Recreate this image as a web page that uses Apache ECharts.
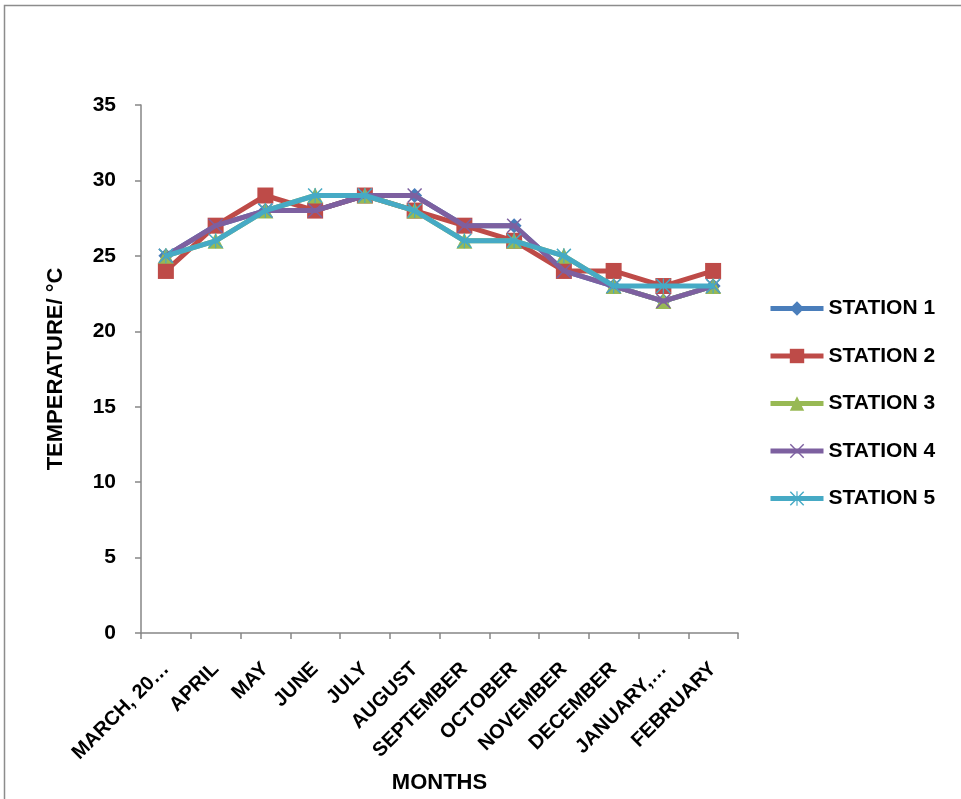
<!DOCTYPE html>
<html><head><meta charset="utf-8">
<script src="https://cdn.jsdelivr.net/npm/echarts@6/dist/echarts.min.js"></script>
<style>html,body{margin:0;padding:0;background:#fff}#c{width:961px;height:799px}</style>
</head><body><div id="c"></div>
<script>
var categories = ["MARCH, 20…","APRIL","MAY","JUNE","JULY","AUGUST","SEPTEMBER","OCTOBER","NOVEMBER","DECEMBER","JANUARY,…","FEBRUARY"];
var station1 = [25,27,28,28,29,29,27,27,24,23,22,23];
var station2 = [24,27,29,28,29,28,27,26,24,24,23,24];
var station3 = [25,26,28,29,29,28,26,26,25,23,22,23];
var station4 = [25,27,28,28,29,29,27,27,24,23,22,23];
var station5 = [25,26,28,29,29,28,26,26,25,23,23,23];
var seriesNames = ["STATION 1","STATION 2","STATION 3","STATION 4","STATION 5"];
var yTicks = [0,5,10,15,20,25,30,35];

var FONT = '"Liberation Sans", Arial, sans-serif';
var xPath = 'path://M0,1.4 L1.4,0 L10,8.6 L18.6,0 L20,1.4 L11.4,10 L20,18.6 L18.6,20 L10,11.4 L1.4,20 L0,18.6 L8.6,10 Z';
var starPath = 'path://M0,1.4 L1.4,0 L10,8.6 L18.6,0 L20,1.4 L11.4,10 L20,18.6 L18.6,20 L10,11.4 L1.4,20 L0,18.6 L8.6,10 Z M9.2,0 L10.8,0 L10.8,20 L9.2,20 Z';
var colors = ['#4a7ebb','#be4b48','#98b954','#7d60a0','#46aac5'];
var symbols = ['diamond','rect','triangle',xPath,starPath];
var sizes = [15,16,16,15,15];
var datas = [station1,station2,station3,station4,station5];

var series = seriesNames.map(function(n,i){
  return {
    name:n, type:'line', data:datas[i], symbol:symbols[i], symbolSize:sizes[i],
    showAllSymbol:true,
    lineStyle:{color:colors[i],width:5},
    itemStyle:{color:colors[i]},
    z:2+i, animation:false
  };
});

var chart = echarts.init(document.getElementById('c'));
chart.setOption({
  animation:false,
  color:colors,
  graphic:[{type:'rect',shape:{x:4.5,y:5.5,width:970,height:800},style:{fill:'none',stroke:'#8c8c8c',lineWidth:1.5},silent:true}],
  grid:{left:141,right:223,top:105,bottom:166,containLabel:false,outerBoundsMode:'none'},
  legend:{
    orient:'vertical', left:768, top:298, padding:0,
    itemWidth:53, itemHeight:18, itemGap:26.5,
    data:seriesNames,
    lineStyle:{width:5},
    textStyle:{fontFamily:FONT,fontWeight:'bold',fontSize:21,color:'#000',lineHeight:21}
  },
  xAxis:{
    type:'category', data:categories, boundaryGap:true,
    name:'MONTHS', nameLocation:'middle', nameGap:139,
    nameTextStyle:{fontFamily:FONT,fontWeight:'bold',fontSize:22,color:'#000'},
    axisLine:{lineStyle:{color:'#868686',width:1.5}},
    axisTick:{show:true,length:6,lineStyle:{color:'#868686',width:1.5}},
    axisLabel:{rotate:45,interval:0,margin:33,fontFamily:FONT,fontWeight:'bold',fontSize:20,color:'#000'}
  },
  yAxis:{
    type:'value', min:0, max:35, interval:5,
    name:'TEMPERATURE/ °C', nameLocation:'middle', nameGap:74, nameRotate:90,
    nameTextStyle:{fontFamily:FONT,fontWeight:'bold',fontSize:22,color:'#000'},
    splitLine:{show:false},
    axisLine:{show:true,lineStyle:{color:'#868686',width:1.5}},
    axisTick:{show:true,length:6,lineStyle:{color:'#868686',width:1.5}},
    axisLabel:{margin:25,fontFamily:FONT,fontWeight:'bold',fontSize:21,color:'#000',
      formatter:function(v){return yTicks.indexOf(v)>=0?String(v):'';}}
  },
  series:series
});
</script></body></html>
